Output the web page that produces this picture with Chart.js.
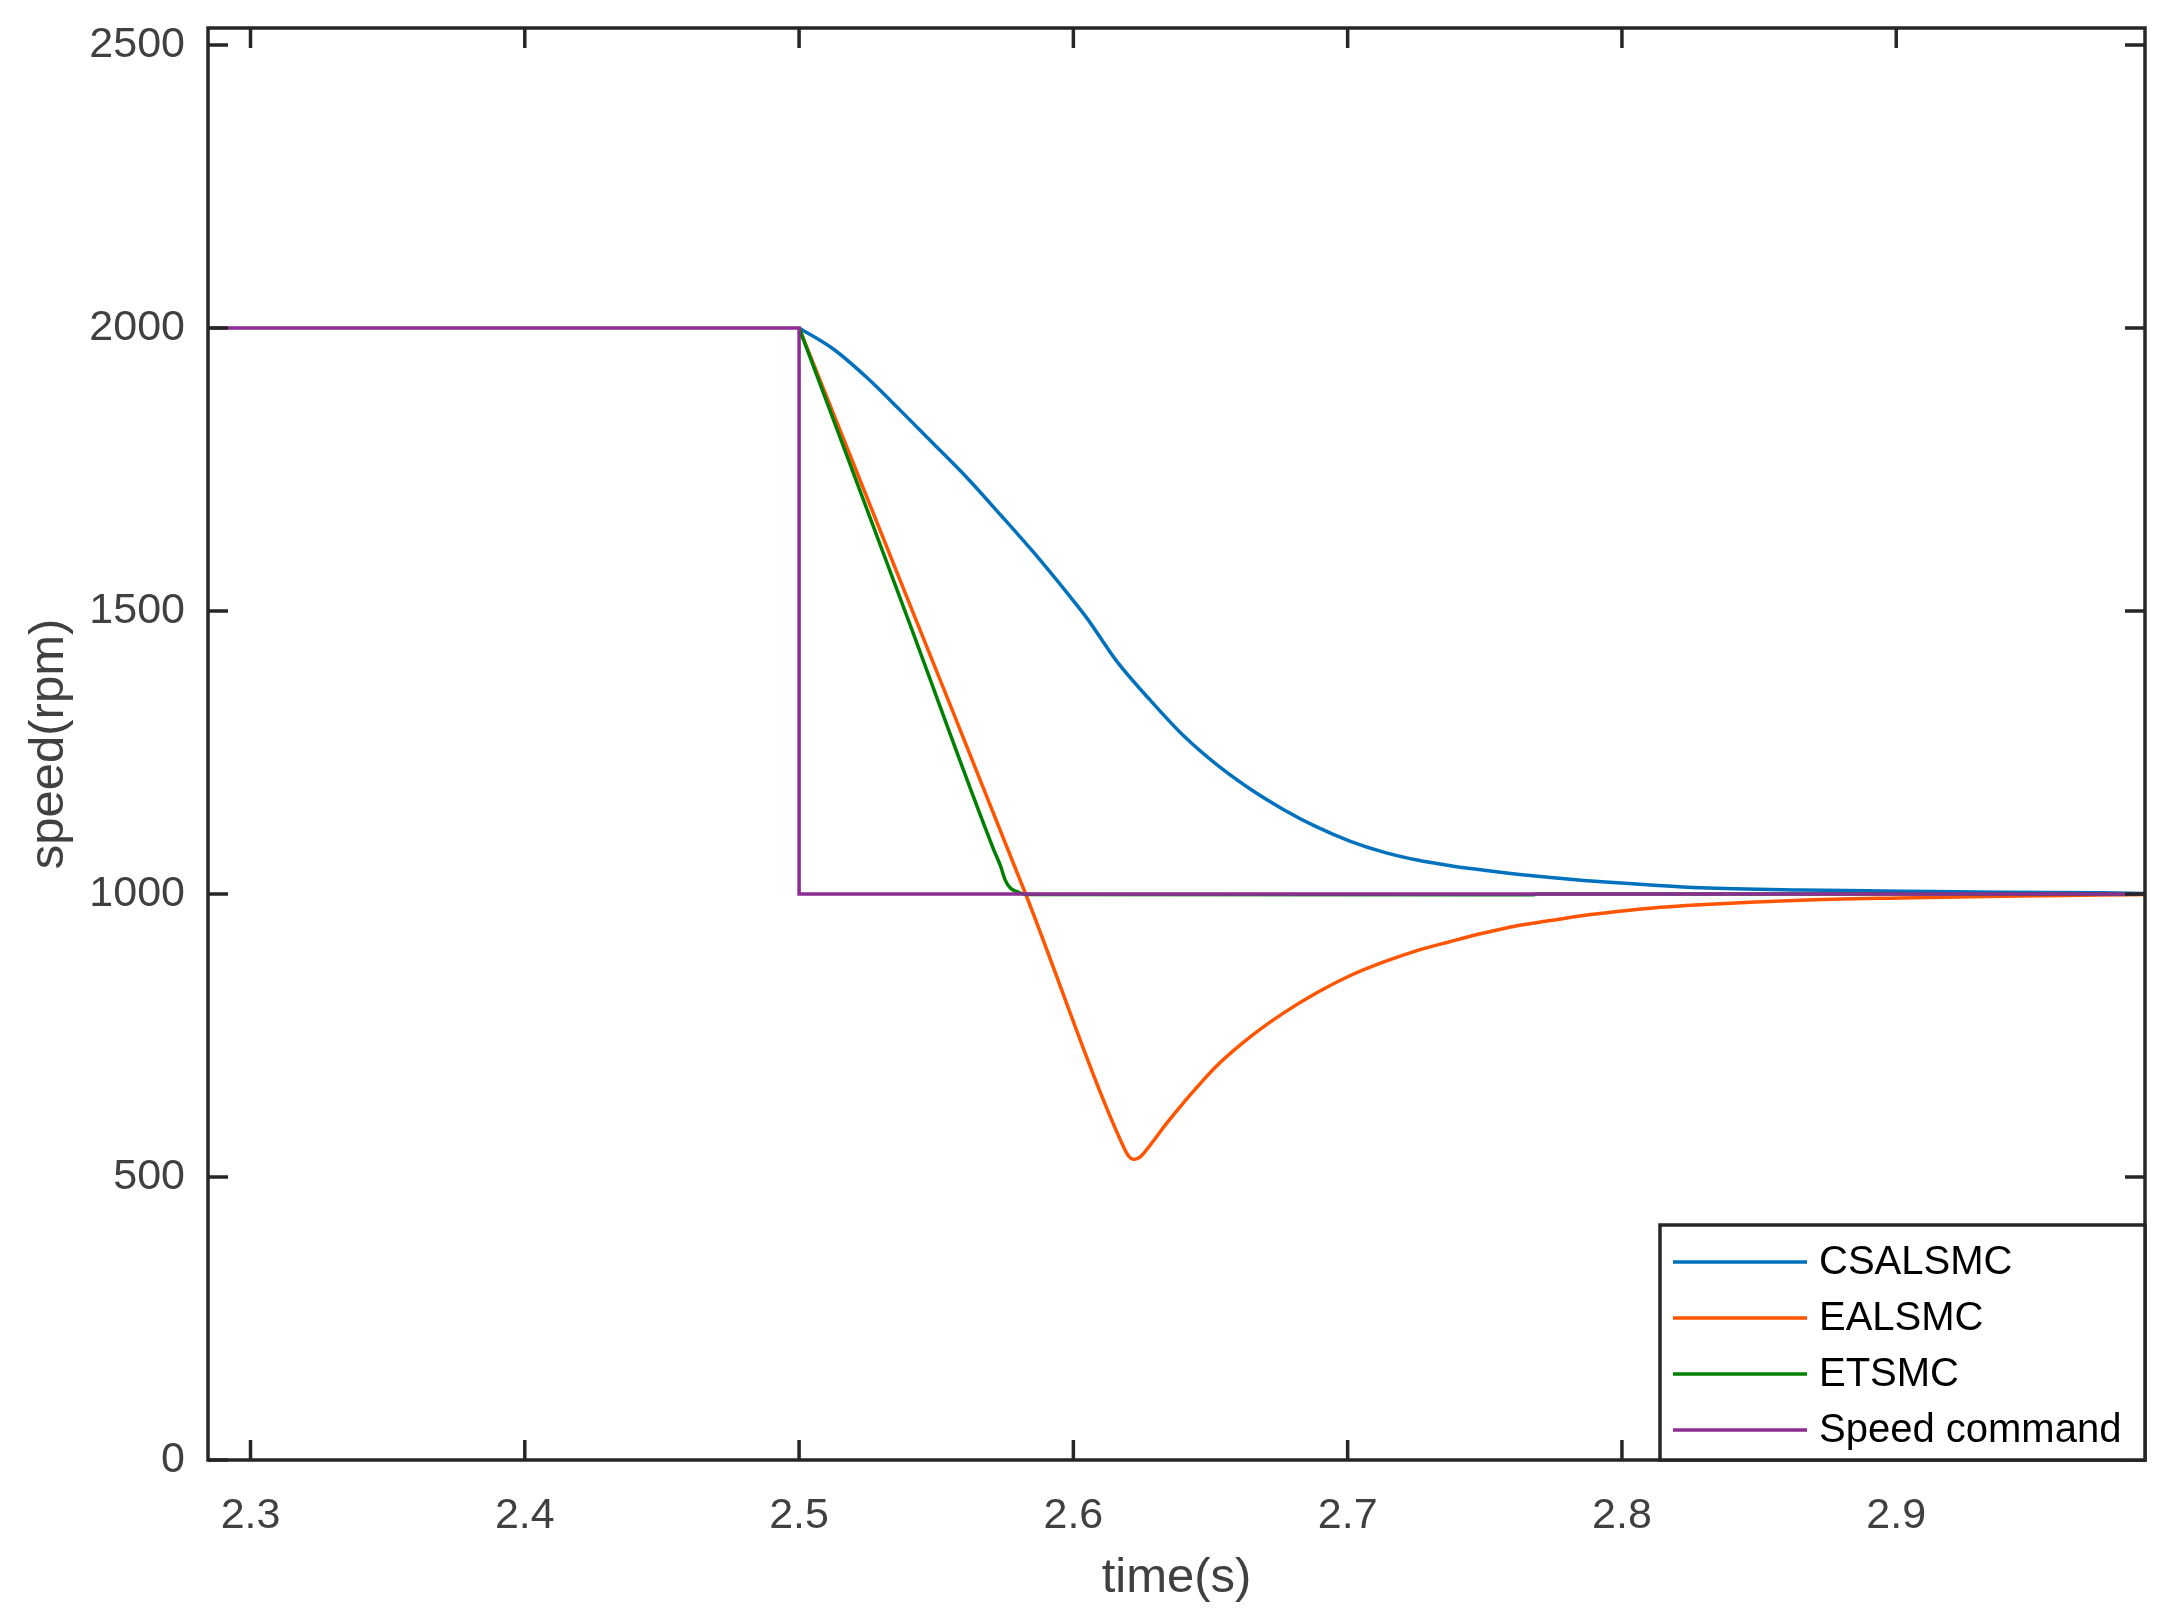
<!DOCTYPE html>
<html><head><meta charset="utf-8">
<script src="https://cdn.jsdelivr.net/npm/chart.js@4.4.1/dist/chart.umd.min.js"></script>
<style>html,body{margin:0;padding:0;background:#fff;}canvas{display:block;}</style>
</head><body>
<canvas id="c" width="2173" height="1622"></canvas>
<script>
// ---- data ----
const seriesNames = ['CSALSMC', 'EALSMC', 'ETSMC', 'Speed command'];
const seriesColors = ['#0072BD', '#FF5500', '#008000', '#8B2D93'];

const tCSALSMC = [2.5, 2.5127, 2.5248, 2.537, 2.5491, 2.5613, 2.5734, 2.5856, 2.5977, 2.605, 2.616, 2.6281, 2.6403, 2.6524, 2.6646, 2.6767, 2.6889, 2.701, 2.7131, 2.7253, 2.7375, 2.7497, 2.7618, 2.774, 2.7861, 2.7983, 2.8104, 2.8286, 2.8651, 2.9015, 2.938, 2.9744, 2.9907];
const vCSALSMC = [2000, 1962, 1912, 1854, 1795, 1735, 1670, 1603, 1532, 1487, 1410, 1342, 1279, 1228, 1185, 1149, 1118, 1093, 1074, 1060, 1050, 1042, 1035, 1029, 1024, 1020, 1016, 1011, 1007, 1005, 1003, 1002, 1001];

const tEALSMC = [2.5, 2.5424, 2.5826, 2.6184, 2.6203, 2.6221, 2.6245, 2.6281, 2.6342, 2.6403, 2.6524, 2.6646, 2.6767, 2.6889, 2.701, 2.7132, 2.7253, 2.7375, 2.7496, 2.7618, 2.7739, 2.7861, 2.7982, 2.8104, 2.8286, 2.8651, 2.9015, 2.938, 2.9744, 2.9907];
const vEALSMC = [2000, 1487, 1000, 552, 536, 531, 536, 557, 596, 632, 697, 748, 790, 826, 856, 880, 900, 916, 931, 944, 953, 962, 969, 975, 981, 989, 993, 996, 998, 999];

const tETSMC = [2.5, 2.5396, 2.5709, 2.5734, 2.5752, 2.5771, 2.5795, 2.583, 2.7678, 2.7685, 2.9907];
const vETSMC = [2000, 1487, 1079, 1050, 1024, 1010, 1004, 999, 998.6, 1000, 1000];

const tCommand = [2.2845, 2.5, 2.5, 2.9907];
const vCommand = [2000, 2000, 1000, 1000];

const xTicks = [2.3, 2.4, 2.5, 2.6, 2.7, 2.8, 2.9];
const yTicks = [0, 500, 1000, 1500, 2000, 2500];
const xRange = [2.2845, 2.9907];
const yRange = [0, 2530];
const xTitle = 'time(s)';
const yTitle = 'speed(rpm)';

// ---- build chart ----
const zip = (t, v) => t.map((x, i) => ({x: x, y: v[i]}));
const seriesT = [tCSALSMC, tEALSMC, tETSMC, tCommand];
const seriesV = [vCSALSMC, vEALSMC, vETSMC, vCommand];
const smooth = [true, true, true, false];

const FONT = '"Liberation Sans", Arial, Helvetica, sans-serif';
const AXIS = '#262626';
const TICKTXT = '#404040';

const datasets = seriesNames.map((name, i) => ({
  label: name,
  data: zip(seriesT[i], seriesV[i]),
  borderColor: seriesColors[i],
  backgroundColor: seriesColors[i],
  borderWidth: 3.5,
  pointRadius: 0,
  pointHoverRadius: 0,
  tension: smooth[i] ? 0.4 : 0,
  cubicInterpolationMode: smooth[i] ? 'monotone' : 'default',
  fill: false,
  order: seriesNames.length - i
}));

const frameTicks = {
  id: 'frameTicks',
  afterDraw(chart) {
    const ctx = chart.ctx, a = chart.chartArea;
    const xs = chart.scales.x, ys = chart.scales.y;
    const L = 20;
    ctx.save();
    ctx.strokeStyle = AXIS;
    ctx.lineWidth = 3.5;
    ctx.lineCap = 'butt';
    ctx.beginPath();
    xTicks.forEach(v => {
      const p = xs.getPixelForValue(v);
      ctx.moveTo(p, a.bottom); ctx.lineTo(p, a.bottom - L);
      ctx.moveTo(p, a.top); ctx.lineTo(p, a.top + L);
    });
    yTicks.forEach(v => {
      const p = ys.getPixelForValue(v);
      ctx.moveTo(a.left, p); ctx.lineTo(a.left + L, p);
      ctx.moveTo(a.right, p); ctx.lineTo(a.right - L, p);
    });
    ctx.stroke();
    ctx.strokeRect(a.left, a.top, a.right - a.left, a.bottom - a.top);

    // legend box (bottom-right, inside axes)
    const w = 485, h = 235;
    const x0 = a.right - w, y0 = a.bottom - h;
    ctx.fillStyle = '#ffffff';
    ctx.fillRect(x0, y0, w, h);
    ctx.strokeStyle = AXIS;
    ctx.lineWidth = 3.5;
    ctx.strokeRect(x0, y0, w, h);
    ctx.font = '40px ' + FONT;
    ctx.textBaseline = 'middle';
    ctx.textAlign = 'left';
    chart.data.datasets.forEach((ds, i) => {
      const y = y0 + 37 + i * 56;
      ctx.strokeStyle = ds.borderColor;
      ctx.lineWidth = 3.5;
      ctx.beginPath();
      ctx.moveTo(x0 + 13, y); ctx.lineTo(x0 + 147, y);
      ctx.stroke();
      ctx.fillStyle = '#000000';
      ctx.fillText(ds.label, x0 + 159, y + 1);
    });
    ctx.restore();
  }
};

new Chart(document.getElementById('c'), {
  type: 'line',
  data: { datasets: datasets },
  options: {
    responsive: false,
    animation: false,
    devicePixelRatio: 1,
    layout: { padding: { top: 28, right: 28, left: 0, bottom: 0 } },
    plugins: { legend: { display: false }, tooltip: { enabled: false } },
    scales: {
      x: {
        type: 'linear',
        min: xRange[0], max: xRange[1],
        afterBuildTicks: s => { s.ticks = xTicks.map(v => ({value: v})); },
        afterFit: s => { s.height = 162; s.paddingLeft = 0; s.paddingRight = 0; },
        grid: { display: false, drawTicks: false },
        border: { display: false },
        ticks: {
          padding: 30,
          color: TICKTXT,
          font: { family: FONT, size: 43 },
          maxRotation: 0,
          autoSkip: false,
          callback: v => Number(v).toFixed(1)
        },
        title: {
          display: true, text: xTitle, color: TICKTXT,
          font: { family: FONT, size: 49 },
          padding: { top: 0, bottom: 14 }
        }
      },
      y: {
        type: 'linear',
        min: yRange[0], max: yRange[1],
        afterBuildTicks: s => { s.ticks = yTicks.map(v => ({value: v})); },
        afterFit: s => { s.width = 208; s.paddingTop = 0; s.paddingBottom = 0; },
        grid: { display: false, drawTicks: false },
        border: { display: false },
        ticks: {
          padding: 23,
          color: TICKTXT,
          font: { family: FONT, size: 43 },
          autoSkip: false,
          callback: v => String(v)
        },
        title: {
          display: true, text: yTitle, color: TICKTXT,
          font: { family: FONT, size: 49 },
          padding: { top: 20, bottom: 0 }
        }
      }
    }
  },
  plugins: [frameTicks]
});
</script>
</body></html>
